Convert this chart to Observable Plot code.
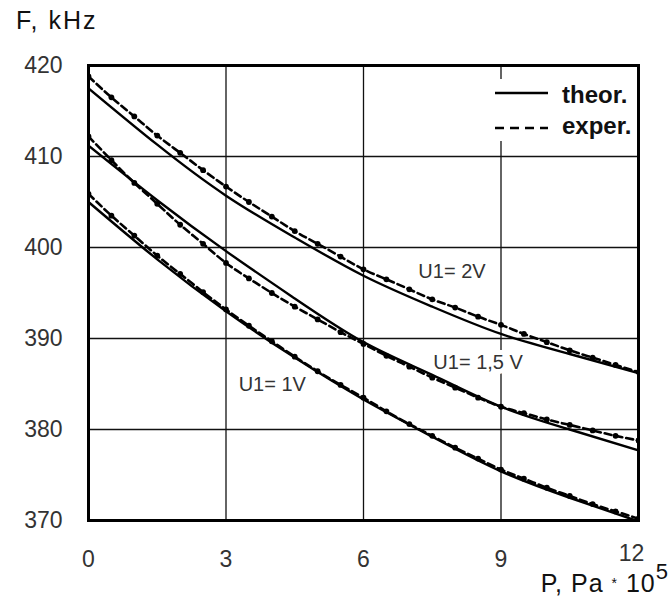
<!DOCTYPE html>
<html>
<head>
<meta charset="utf-8">
<script src="https://cdn.jsdelivr.net/npm/d3@7"></script>
<script src="https://cdn.jsdelivr.net/npm/@observablehq/plot@0.6"></script>
<style>
  html, body { margin: 0; padding: 0; background: white; }
  #wrap { position: relative; width: 672px; height: 599px; font-family: "Liberation Sans", Arial, sans-serif; }
  #wrap svg.plot { position: absolute; left: 0; top: 0; }
  .ttl { position: absolute; color: #111; white-space: nowrap; }
</style>
</head>
<body>
<div id="wrap"></div>
<script>
// ---- data ----
const xTicks = [0, 3, 6, 9, 12];
const yTicks = [370, 380, 390, 400, 410, 420];
const xGrid = [3, 6, 9];
const yGrid = [380, 390, 400, 410];

// theoretical curves
const P_theor = [0, 1.5, 3, 4.5, 6, 7.5, 9, 10.5, 12];
const theor2V  = [417.5, 411.3, 405.7, 401.1, 396.9, 393.5, 390.5, 388.3, 386.2];
const theor15V = [411.2, 405.2, 399.6, 394.4, 389.6, 386.0, 382.5, 380.0, 377.7];
const theor1V  = [405.0, 398.7, 393.0, 387.9, 383.3, 379.2, 375.4, 372.5, 369.9];

// experimental curves
const P_exper = [0, 0.5, 1, 1.5, 2, 2.5, 3, 3.5, 4, 4.5, 5, 5.5, 6, 6.5, 7, 7.5, 8, 8.5, 9, 9.5, 10, 10.5, 11, 11.5, 12];
const exper2V  = [418.8, 416.5, 414.4, 412.3, 410.4, 408.5, 406.7, 405.0, 403.4, 401.8, 400.4, 399.0, 397.6, 396.5, 395.4, 394.3, 393.4, 392.4, 391.5, 390.5, 389.6, 388.7, 387.9, 387.1, 386.3];
const exper15V = [412.2, 409.6, 407.1, 404.8, 402.5, 400.4, 398.3, 396.6, 395.0, 393.5, 392.1, 390.7, 389.4, 388.1, 386.9, 385.7, 384.6, 383.5, 382.5, 381.8, 381.1, 380.5, 379.9, 379.3, 378.8];
const exper1V  = [405.9, 403.5, 401.3, 399.1, 397.1, 395.1, 393.2, 391.4, 389.7, 388.0, 386.4, 384.9, 383.5, 382.0, 380.6, 379.3, 378.0, 376.8, 375.6, 374.6, 373.6, 372.7, 371.8, 371.0, 370.2];

// curve labels
const labelText = ["U1= 2V", "U1= 1,5 V", "U1= 1V"];
const labelP = [7.93, 8.50, 4.01];
const labelF = [397.3, 387.3, 384.9];

// ---- build tables ----
const theorRows = [];
[["2V", theor2V], ["1.5V", theor15V], ["1V", theor1V]].forEach(([s, arr]) =>
  arr.forEach((f, i) => theorRows.push({series: s, P: P_theor[i], F: f})));
const experRows = [];
[["2V", exper2V], ["1.5V", exper15V], ["1V", exper1V]].forEach(([s, arr]) =>
  arr.forEach((f, i) => experRows.push({series: s, P: P_exper[i], F: f})));
const labels = labelText.map((t, i) => ({text: t, P: labelP[i], F: labelF[i]}));

const chart = Plot.plot({
  width: 672,
  height: 599,
  marginLeft: 88,
  marginRight: 34,
  marginTop: 65,
  marginBottom: 79,
  style: {fontFamily: "'Liberation Sans', Arial, sans-serif", fontSize: "23px", color: "#333", background: "transparent"},
  x: {domain: [0, 12], label: null},
  y: {domain: [370, 420], label: null},
  marks: [
    Plot.ruleX(xGrid, {stroke: "#111", strokeWidth: 1.3}),
    Plot.ruleY(yGrid, {stroke: "#111", strokeWidth: 1.3}),
    Plot.axisY(yTicks, {tickSize: 0, tickPadding: 26, label: null}),
    Plot.axisX(xTicks.slice(0, -1), {tickSize: 0, tickPadding: 30, label: null}),
    Plot.axisX(xTicks.slice(-1), {tickSize: 0, tickPadding: 24, label: null, dx: -7}),
    Plot.line(theorRows, {x: "P", y: "F", z: "series", curve: "natural", stroke: "black", strokeWidth: 2.4, clip: true}),
    Plot.line(experRows, {x: "P", y: "F", z: "series", curve: "natural", stroke: "black", strokeWidth: 2.6, strokeDasharray: "7,4", clip: true}),
    Plot.dot(experRows, {x: "P", y: "F", r: 2.9, fill: "black", stroke: "none", clip: true}),
    Plot.text(labels, {x: "P", y: "F", text: "text", fontSize: 20, fill: "#333", stroke: "white", strokeWidth: 10, textAnchor: "middle", lineAnchor: "middle"}),
    Plot.frame({stroke: "black", strokeWidth: 3})
  ]
});
chart.classList.add("plot");
const wrap = document.getElementById("wrap");
wrap.appendChild(chart);

// titles
const yt = document.createElement("div");
yt.className = "ttl";
yt.style.cssText = "left:16px;top:6px;font-size:25px;letter-spacing:2px;";
yt.textContent = "F, kHz";
wrap.appendChild(yt);

const xt = document.createElement("div");
xt.className = "ttl";
xt.style.cssText = "right:4px;top:574px;font-size:25px;line-height:19px;letter-spacing:1px;";
xt.innerHTML = "P, Pa <span style='font-size:14px;vertical-align:4px'>*</span> 10<span style='font-size:22px;position:relative;top:-13px;letter-spacing:0'>5</span>";
wrap.appendChild(xt);

// legend
const lg = document.createElement("div");
lg.style.cssText = "position:absolute;left:489px;top:79px;width:146px;height:62px;background:white;";
lg.innerHTML =
  "<svg width='146' height='62' style='position:absolute;left:0;top:0'>" +
  "<line x1='6' x2='59' y1='14' y2='14' stroke='black' stroke-width='2.4'/>" +
  "<line x1='6' x2='59' y1='49' y2='49' stroke='black' stroke-width='2.6' stroke-dasharray='9,6'/>" +
  "<text x='73' y='24' font-size='24' font-weight='bold' fill='#111' font-family='Liberation Sans, Arial, sans-serif'>theor.</text>" +
  "<text x='73' y='55' font-size='24' font-weight='bold' fill='#111' font-family='Liberation Sans, Arial, sans-serif'>exper.</text>" +
  "</svg>";
wrap.appendChild(lg);
</script>
</body>
</html>
